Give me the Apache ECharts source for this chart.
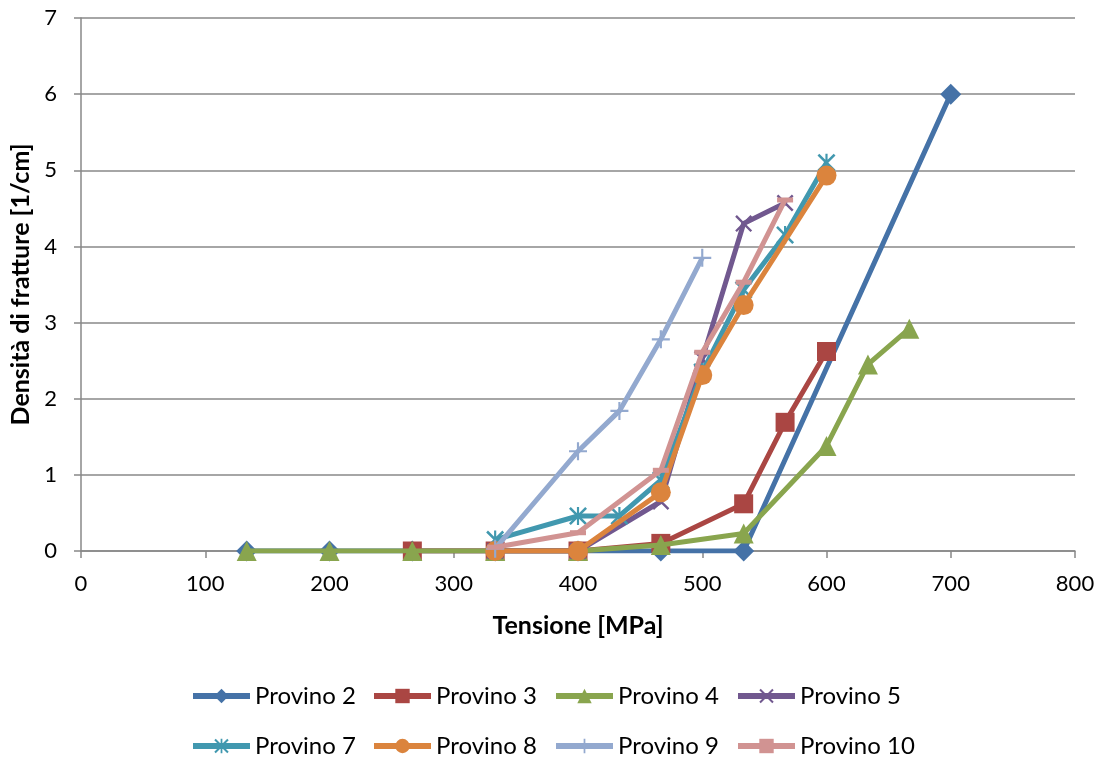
<!DOCTYPE html>
<html><head><meta charset="utf-8">
<script src="https://cdn.jsdelivr.net/npm/echarts@6/dist/echarts.min.js"></script>
<style>html,body{margin:0;padding:0;background:#fff}#c{width:1100px;height:760px}</style>
</head><body><div id="c"></div>
<script>
const seriesNames = ['Provino 2','Provino 3','Provino 4','Provino 5','Provino 7','Provino 8','Provino 9','Provino 10'];
const x2 = [133.33,200,266.67,333.33,400,466.67,533.33,700];
const y2 = [0,0,0,0,0,0,0,6];
const x3 = [266.67,333.33,400,466.67,533.33,566.67,600];
const y3 = [0,0,0,0.1,0.62,1.69,2.62];
const x4 = [133.33,200,266.67,333.33,400,466.67,533.33,600,633.33,666.67];
const y4 = [0,0,0,0,0,0.08,0.23,1.38,2.45,2.92];
const x5 = [333.33,400,466.67,500,533.33,566.67];
const y5 = [0,0,0.65,2.52,4.3,4.57];
const x7 = [333.33,400,433.33,466.67,500,533.33,566.67,600];
const y7 = [0.15,0.46,0.46,0.93,2.35,3.43,4.15,5.1];
const x8 = [333.33,400,466.67,500,533.33,600];
const y8 = [0,0,0.77,2.31,3.23,4.93];
const x9 = [333.33,400,433.33,466.67,500];
const y9 = [0.03,1.31,1.84,2.78,3.85];
const x10 = [333.33,400,466.67,500,533.33,566.67];
const y10 = [0.05,0.24,1.06,2.61,3.53,4.61];
const xTicks = [0,100,200,300,400,500,600,700,800];
const yTicks = [0,1,2,3,4,5,6,7];

const colors = ['#4572A7','#AA4643','#89A54E','#71588F','#4198AF','#DB843D','#93A9CF','#D19392'];
const symX = 'path://M0,1L1,0L10,9L9,10Z M9,0L10,1L1,10L0,9Z';
const symAst = 'path://M0,1L1,0L10,9L9,10Z M9,0L10,1L1,10L0,9Z M4.4,0H5.6V10H4.4Z';
const symPlus = 'path://M4.4,0H5.6V4.4H10V5.6H5.6V10H4.4V5.6H0V4.4H4.4Z';
const symDash = 'path://M0,4H10V6H0Z';
const symbols = ['diamond','rect','triangle',symX,symAst,'circle',symPlus,symDash];
const sizes = [21,19,20,17,18,20,18,[16,5]];
const xs = [x2,x3,x4,x5,x7,x8,x9,x10];
const ys = [y2,y3,y4,y5,y7,y8,y9,y10];
const FONT = 'Lato, "Open Sans", sans-serif';

const series = seriesNames.map((n,i)=>({
  name:n, type:'line', data: xs[i].map((x,j)=>[x, ys[i][j]]),
  symbol: symbols[i], symbolSize: sizes[i], showAllSymbol:true,
  lineStyle:{width:5,color:colors[i]},
  itemStyle:{color:colors[i]},
  animation:false, z: 2+i
}));

const legendLeft = [190,371,553,735];
const legendTop = [684,734];
const legends = seriesNames.map((n,i)=>({
  data:[n], left: legendLeft[i%4], top: legendTop[Math.floor(i/4)],
  itemWidth:57, itemHeight:18, itemGap:0, padding:0,
  lineStyle:{width:6},
  textStyle:{fontSize:24, color:'#000', fontFamily:FONT, padding:[0,0,0,0]}
}));

const chart = echarts.init(document.getElementById('c'));
chart.setOption({
  animation:false,
  color:colors,
  grid:{left:81,right:25,top:18,bottom:209,containLabel:false},
  xAxis:{type:'value',min:0,max:800,interval:100,
    name:'Tensione [MPa]',nameLocation:'middle',nameGap:62,
    nameTextStyle:{fontSize:25,fontWeight:'bold',color:'#000',fontFamily:FONT},
    axisLine:{lineStyle:{color:'#888',width:1.5}},
    axisTick:{show:true,length:7,lineStyle:{color:'#888',width:1.5}},
    axisLabel:{fontSize:22,color:'#000',margin:22,fontFamily:FONT},
    splitLine:{show:false}},
  yAxis:{type:'value',min:0,max:7,interval:1,
    name:'Densità di fratture [1/cm]',nameLocation:'middle',nameGap:48,
    nameTextStyle:{fontSize:25,fontWeight:'bold',color:'#000',fontFamily:FONT},
    axisLine:{show:true,lineStyle:{color:'#888',width:1.5}},
    axisTick:{show:true,length:7,lineStyle:{color:'#888',width:1.5}},
    axisLabel:{fontSize:22,color:'#000',margin:24,fontFamily:FONT},
    splitLine:{lineStyle:{color:'#888',width:1.5}}},
  legend:legends,
  series:series
});
</script></body></html>
